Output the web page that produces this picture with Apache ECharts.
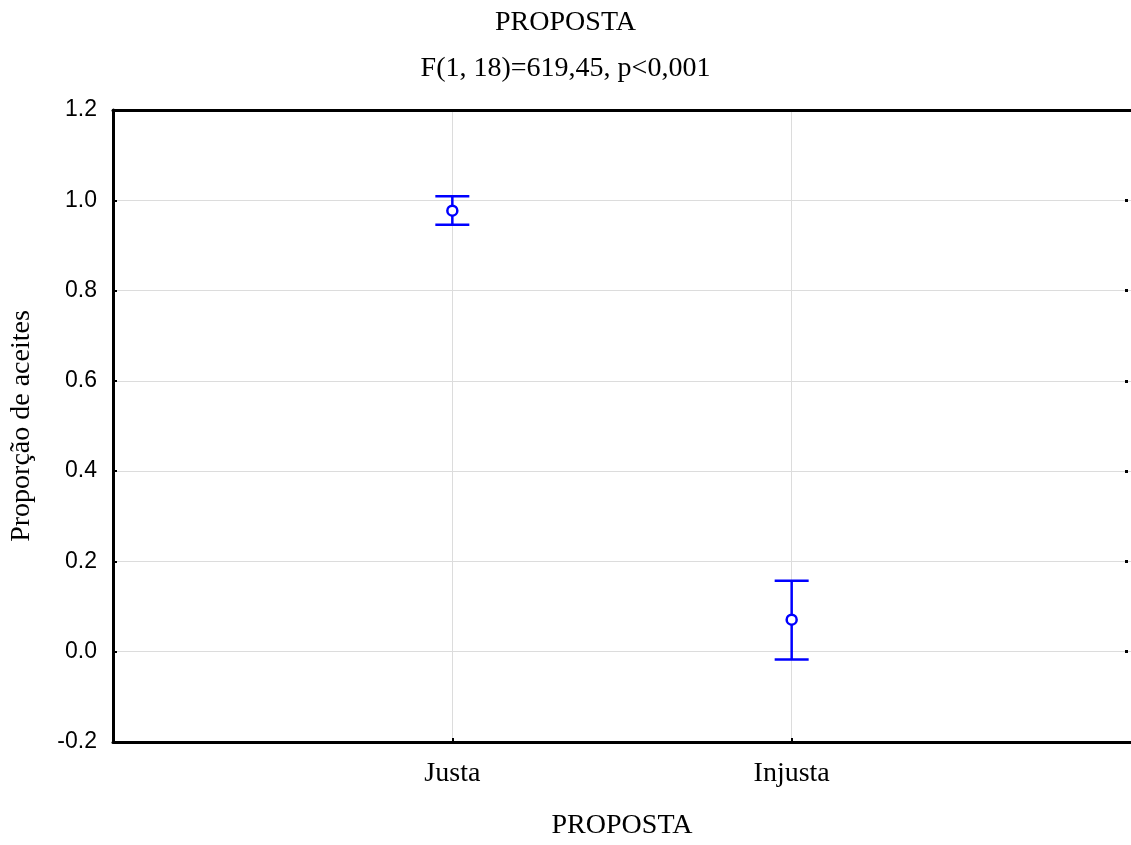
<!DOCTYPE html>
<html>
<head>
<meta charset="utf-8">
<script src="https://cdn.jsdelivr.net/npm/echarts@6/dist/echarts.min.js"></script>
<style>
  html, body { margin: 0; padding: 0; background: #fff; }
  #chart { width: 1131px; height: 845px; }
</style>
</head>
<body>
<div id="chart"></div>
<script>
// dados
var categories = ['Justa', 'Injusta'];
var means = [0.977, 0.071];
var lowerBounds = [0.946, -0.017];
var upperBounds = [1.009, 0.157];

var serif = '"Liberation Serif", "Times New Roman", serif';
var sans = '"Liberation Sans", Arial, sans-serif';
var blue = '#0000ff';

// posicao 1, 2 no eixo x (0..3), como no Statistica
var points = categories.map(function (c, i) {
  return [i + 1, means[i], lowerBounds[i], upperBounds[i]];
});

var myChart = echarts.init(document.getElementById('chart'));
var option = {
  animation: false,
  title: {
    text: 'PROPOSTA',
    subtext: 'F(1, 18)=619,45, p<0,001',
    left: 'center',
    top: 4,
    itemGap: 18,
    textStyle: { fontFamily: serif, fontSize: 28, fontWeight: 'normal', color: '#000' },
    subtextStyle: { fontFamily: serif, fontSize: 28, color: '#000' }
  },
  grid: { left: 113, right: -2, top: 110, bottom: 95 },
  xAxis: [{
    type: 'value',
    min: 0,
    max: 3,
    interval: 1,
    name: 'PROPOSTA',
    nameLocation: 'middle',
    nameGap: 70,
    nameTextStyle: { fontFamily: serif, fontSize: 28, color: '#000' },
    axisLine: { show: true, onZero: false, lineStyle: { color: '#000', width: 3 } },
    axisTick: { show: true, inside: true, length: 4, lineStyle: { color: '#000', width: 2 },
      customValues: [1, 2] },
    axisLabel: {
      margin: 18,
      fontFamily: serif, fontSize: 28, color: '#000',
      customValues: [1, 2],
      formatter: function (v) { return categories[Math.round(v) - 1] || ''; }
    },
    splitLine: { show: true, lineStyle: { color: '#dcdcdc', width: 1 } }
  }, {
    type: 'value',
    position: 'top',
    min: 0,
    max: 3,
    axisLine: { show: true, onZero: false, lineStyle: { color: '#000', width: 3 } },
    axisTick: { show: false },
    axisLabel: { show: false },
    splitLine: { show: false }
  }],
  yAxis: [{
    type: 'value',
    min: -0.2,
    max: 1.2,
    interval: 0.2,
    name: 'Proporção de aceites',
    nameLocation: 'middle',
    nameGap: 77,
    nameTextStyle: { fontFamily: serif, fontSize: 28, color: '#000' },
    axisLine: { show: true, onZero: false, lineStyle: { color: '#000', width: 3 } },
    axisTick: { show: true, inside: true, length: 4, lineStyle: { color: '#000', width: 2 } },
    axisLabel: {
      margin: 16,
      fontFamily: sans, fontSize: 23, color: '#000',
      formatter: function (v) { return v.toFixed(1); }
    },
    splitLine: { show: true, lineStyle: { color: '#dcdcdc', width: 1 } }
  }, {
    type: 'value',
    position: 'right',
    min: -0.2,
    max: 1.2,
    interval: 0.2,
    offset: -3,
    axisLine: { show: false, onZero: false },
    axisTick: { show: true, inside: true, length: 3, lineStyle: { color: '#000', width: 3 } },
    axisLabel: { show: false },
    splitLine: { show: false }
  }],
  series: [{
    type: 'custom',
    xAxisIndex: 0,
    yAxisIndex: 0,
    data: points,
    renderItem: function (params, api) {
      var x = api.value(0);
      var mid = api.coord([x, api.value(1)]);
      var lo = api.coord([x, api.value(2)]);
      var hi = api.coord([x, api.value(3)]);
      var half = 17;
      var st = { stroke: blue, lineWidth: 2.5, fill: null };
      return {
        type: 'group',
        children: [
          { type: 'line', shape: { x1: mid[0], y1: hi[1], x2: mid[0], y2: mid[1] - 5 }, style: st },
          { type: 'line', shape: { x1: mid[0], y1: mid[1] + 5, x2: mid[0], y2: lo[1] }, style: st },
          { type: 'line', shape: { x1: hi[0] - half, y1: hi[1], x2: hi[0] + half, y2: hi[1] }, style: st },
          { type: 'line', shape: { x1: lo[0] - half, y1: lo[1], x2: lo[0] + half, y2: lo[1] }, style: st },
          { type: 'circle', shape: { cx: mid[0], cy: mid[1], r: 5 }, style: { stroke: blue, lineWidth: 2.5, fill: '#fff' } }
        ]
      };
    }
  }]
};
myChart.setOption(option);
</script>
</body>
</html>
